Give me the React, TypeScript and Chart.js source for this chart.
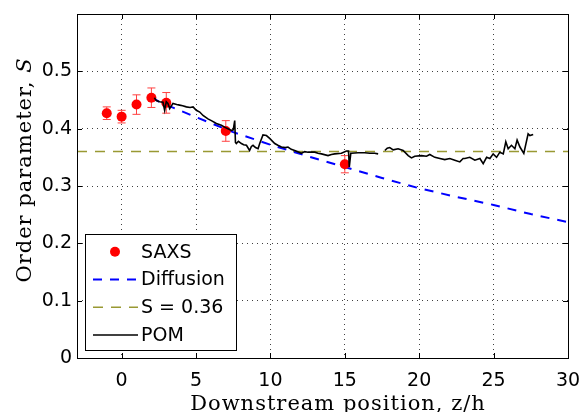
import React, { useEffect, useRef } from 'react';
import { Chart, registerables } from 'chart.js';

Chart.register(...registerables);

const xTicks = [0, 5, 10, 15, 20, 25, 30];
const yTicks = [0, 0.1, 0.2, 0.3, 0.4, 0.5];

const seriesLabels = ['SAXS', 'Diffusion', 'S = 0.36', 'POM'];

const saxsZ = [-1, 0, 1, 2, 3, 7, 15];
const saxsS = [0.427, 0.421, 0.442, 0.454, 0.445, 0.396, 0.338];
const saxsErr = [0.011, 0.011, 0.017, 0.017, 0.018, 0.018, 0.015];

const diffZ = [2, 2.5, 5, 7.5, 10, 12.5, 15, 17.5, 20, 22.5, 25, 27.5, 30];
const diffS = [0.455, 0.447, 0.42, 0.394, 0.372, 0.352, 0.333, 0.314, 0.296, 0.281, 0.267, 0.251, 0.237];

const refZ = [-3, 30];
const refS = [0.36, 0.36];

const pomZ = [
  2.2, 2.33, 2.55, 2.78, 2.89, 3.0, 3.11, 3.23, 3.45, 3.7, 3.9, 4.1, 4.35, 4.6, 4.8, 5.02, 5.25, 5.47, 5.8,
  6.03, 6.37, 6.7, 7.04, 7.38, 7.5, 7.6, 7.65, 7.71, 7.85, 8.05, 8.2, 8.39, 8.6, 8.72, 8.83, 9.0, 9.17, 9.28,
  9.5, 9.73, 9.95, 10.29, 10.5, 10.74, 11.0, 11.18, 11.4, 11.63, 12.08, 12.3, 12.53, 12.98, 13.2, 13.43,
  13.87, 14.1, 14.32, 14.77, 15.11, 15.25, 15.3, 15.4, 15.45, 15.89, 16.34, 16.68, 17.0, 17.24, 17.45,
  17.69, 17.85, 18.02, 18.25, 18.58, 18.92, 19.26, 19.48, 19.7, 20.15, 20.49, 20.71, 21.05, 21.39,
  21.72, 22.06, 22.39, 22.73, 22.95, 23.07, 23.4, 23.74, 24.08, 24.3, 24.53, 24.75, 24.97, 25.2, 25.42,
  25.65, 25.82, 25.98, 26.2, 26.43, 26.58, 26.77, 27.03, 27.32, 27.44, 27.66,
];
const pomS = [
  0.454, 0.449, 0.447, 0.446, 0.432, 0.447, 0.444, 0.435, 0.444, 0.442, 0.441, 0.44, 0.438, 0.437, 0.438,
  0.432, 0.429, 0.423, 0.417, 0.414, 0.409, 0.406, 0.401, 0.397, 0.398, 0.414, 0.376, 0.374, 0.378,
  0.374, 0.372, 0.371, 0.362, 0.369, 0.371, 0.367, 0.365, 0.374, 0.389, 0.388, 0.383, 0.374, 0.371,
  0.368, 0.367, 0.368, 0.364, 0.362, 0.357, 0.36, 0.359, 0.359, 0.357, 0.356, 0.353, 0.355, 0.356,
  0.357, 0.361, 0.361, 0.333, 0.357, 0.357, 0.358, 0.358, 0.357, 0.357, 0.356, null,
  0.362, 0.366, 0.367, 0.363, 0.365, 0.362, 0.353, 0.349, 0.352, 0.353, 0.352, 0.355, 0.35, 0.348,
  0.346, 0.348, 0.345, 0.342, 0.348, 0.348, 0.35, 0.345, 0.348, 0.339, 0.35, 0.348, 0.356, 0.35, 0.359,
  0.356, 0.377, 0.365, 0.371, 0.365, 0.38, 0.368, 0.357, 0.391, 0.388, 0.39,
];

const toPts = (xs: number[], ys: (number | null)[]) => xs.map((x, i) => ({ x, y: ys[i] }));

const SANS = 'DejaVu Sans';
const SERIF = 'DejaVu Serif';
const RED = '#ff0000';
const BLUE = '#0000ff';
const OLIVE = '#999933';

const customPlugin = {
  id: 'custom',
  beforeDatasetsDraw(chart: any) {
    const { ctx } = chart;
    const xs = chart.scales.x;
    const ys = chart.scales.y;
    ctx.save();
    ctx.strokeStyle = '#ff4040';
    ctx.lineWidth = 1;
    for (let i = 0; i < saxsZ.length; i++) {
      const px = xs.getPixelForValue(saxsZ[i]);
      const t = ys.getPixelForValue(saxsS[i] + saxsErr[i]);
      const b = ys.getPixelForValue(saxsS[i] - saxsErr[i]);
      ctx.beginPath();
      ctx.moveTo(px, t);
      ctx.lineTo(px, b);
      ctx.moveTo(px - 4, t);
      ctx.lineTo(px + 4, t);
      ctx.moveTo(px - 4, b);
      ctx.lineTo(px + 4, b);
      ctx.stroke();
    }
    ctx.restore();
  },
  afterDraw(chart: any) {
    const { ctx, chartArea: a } = chart;
    const xs = chart.scales.x;
    const ys = chart.scales.y;
    ctx.save();
    // box
    ctx.strokeStyle = '#000';
    ctx.lineWidth = 1;
    ctx.setLineDash([]);
    ctx.strokeRect(Math.round(a.left) + 0.5, Math.round(a.top) + 0.5, Math.round(a.right - a.left), Math.round(a.bottom - a.top));
    // inner ticks
    ctx.beginPath();
    xTicks.forEach((v) => {
      const px = Math.round(xs.getPixelForValue(v)) + 0.5;
      ctx.moveTo(px, a.bottom);
      ctx.lineTo(px, a.bottom - 5);
      ctx.moveTo(px, a.top);
      ctx.lineTo(px, a.top + 5);
    });
    yTicks.forEach((v) => {
      const py = Math.round(ys.getPixelForValue(v)) + 0.5;
      ctx.moveTo(a.left, py);
      ctx.lineTo(a.left + 5, py);
      ctx.moveTo(a.right, py);
      ctx.lineTo(a.right - 5, py);
    });
    ctx.stroke();

    // legend
    const lx = 85.5, ly = 234.5, lw = 151, lh = 116;
    ctx.fillStyle = '#fff';
    ctx.fillRect(lx, ly, lw, lh);
    ctx.strokeRect(lx, ly, lw, lh);
    const rows = [251.7, 279.5, 307.3, 335];
    const ds = chart.data.datasets;
    ctx.font = `19px "${SANS}"`;
    ctx.textBaseline = 'middle';
    ctx.textAlign = 'left';
    for (let i = 0; i < 4; i++) {
      const d = ds.find((q: any) => q.label === seriesLabels[i]);
      const y = rows[i];
      if (i === 0) {
        ctx.fillStyle = d.backgroundColor;
        ctx.beginPath();
        ctx.arc(115, y, 5, 0, Math.PI * 2);
        ctx.fill();
      } else {
        ctx.strokeStyle = d.borderColor;
        ctx.lineWidth = d.borderWidth;
        ctx.setLineDash(d.borderDash || []);
        ctx.beginPath();
        ctx.moveTo(93, y);
        ctx.lineTo(138, y);
        ctx.stroke();
        ctx.setLineDash([]);
      }
      ctx.fillStyle = '#000';
      ctx.fillText(seriesLabels[i], 141, y + 1);
    }

    // axis titles
    ctx.fillStyle = '#000';
    ctx.textBaseline = 'alphabetic';
    ctx.font = `21px "${SERIF}"`;
    ctx.letterSpacing = '1px';
    ctx.textAlign = 'center';
    ctx.fillText('Downstream position, z/h', 338, 410);

    ctx.translate(31, 170);
    ctx.rotate(-Math.PI / 2);
    const p1 = 'Order parameter, ';
    const p2 = 'S';
    ctx.font = `21px "${SERIF}"`;
    const w1 = ctx.measureText(p1).width;
    ctx.font = `italic 21px "${SERIF}"`;
    const w2 = ctx.measureText(p2).width;
    const start = -(w1 + w2) / 2;
    ctx.textAlign = 'left';
    ctx.font = `21px "${SERIF}"`;
    ctx.fillText(p1, start, 0);
    ctx.font = `italic 21px "${SERIF}"`;
    ctx.fillText(p2, start + w1, 0);
    ctx.restore();
  },
};

export default function App() {
  const ref = useRef<HTMLCanvasElement>(null);
  useEffect(() => {
    if (!ref.current) return;
    const chart = new Chart(ref.current, {
      type: 'scatter',
      data: {
        datasets: [
          {
            label: seriesLabels[3],
            data: toPts(pomZ, pomS),
            showLine: true,
            borderColor: '#000000',
            borderWidth: 1.6,
            pointRadius: 0,
            spanGaps: false,
            order: 0,
          },
          {
            label: seriesLabels[0],
            data: toPts(saxsZ, saxsS),
            backgroundColor: RED,
            borderColor: RED,
            pointRadius: 5,
            pointBorderWidth: 0,
            showLine: false,
            order: 1,
          },
          {
            label: seriesLabels[1],
            data: toPts(diffZ, diffS),
            showLine: true,
            borderColor: BLUE,
            borderWidth: 2,
            borderDash: [9, 8],
            pointRadius: 0,
            order: 2,
          },
          {
            label: seriesLabels[2],
            data: toPts(refZ, refS),
            showLine: true,
            borderColor: OLIVE,
            borderWidth: 1.5,
            borderDash: [10, 8],
            pointRadius: 0,
            order: 3,
          },
        ],
      } as any,
      options: {
        animation: false,
        responsive: true,
        maintainAspectRatio: false,
        layout: { padding: { top: 14, right: 15, left: 0, bottom: 0 } },
        plugins: { legend: { display: false }, tooltip: { enabled: false } },
        scales: {
          x: {
            type: 'linear',
            min: -3,
            max: 30,
            afterBuildTicks: (s: any) => {
              s.ticks = xTicks.map((v) => ({ value: v }));
            },
            afterFit: (s: any) => {
              s.height = 54;
              s.paddingLeft = 0;
              s.paddingRight = 0;
            },
            grid: { color: 'rgba(0,0,0,0.75)', lineWidth: 1, drawTicks: false },
            border: { display: false, dash: [1, 4] },
            ticks: {
              color: '#000',
              font: { family: SANS, size: 19 },
              padding: 12,
              maxRotation: 0,
              callback: (v: any) => `${v}`,
            },
          },
          y: {
            type: 'linear',
            min: 0,
            max: 0.6,
            afterBuildTicks: (s: any) => {
              s.ticks = yTicks.map((v) => ({ value: v }));
            },
            afterFit: (s: any) => {
              s.width = 77;
              s.paddingTop = 0;
              s.paddingBottom = 0;
            },
            grid: { color: 'rgba(0,0,0,0.75)', lineWidth: 1, drawTicks: false },
            border: { display: false, dash: [1, 4] },
            ticks: {
              color: '#000',
              font: { family: SANS, size: 19 },
              padding: 5,
              callback: (v: any) => `${v}`,
            },
          },
        },
      } as any,
      plugins: [customPlugin],
    });
    return () => chart.destroy();
  }, []);
  return (
    <div style={{ position: 'fixed', left: 0, top: 0, width: 583, height: 412, background: '#fff' }}>
      <canvas ref={ref} />
    </div>
  );
}
